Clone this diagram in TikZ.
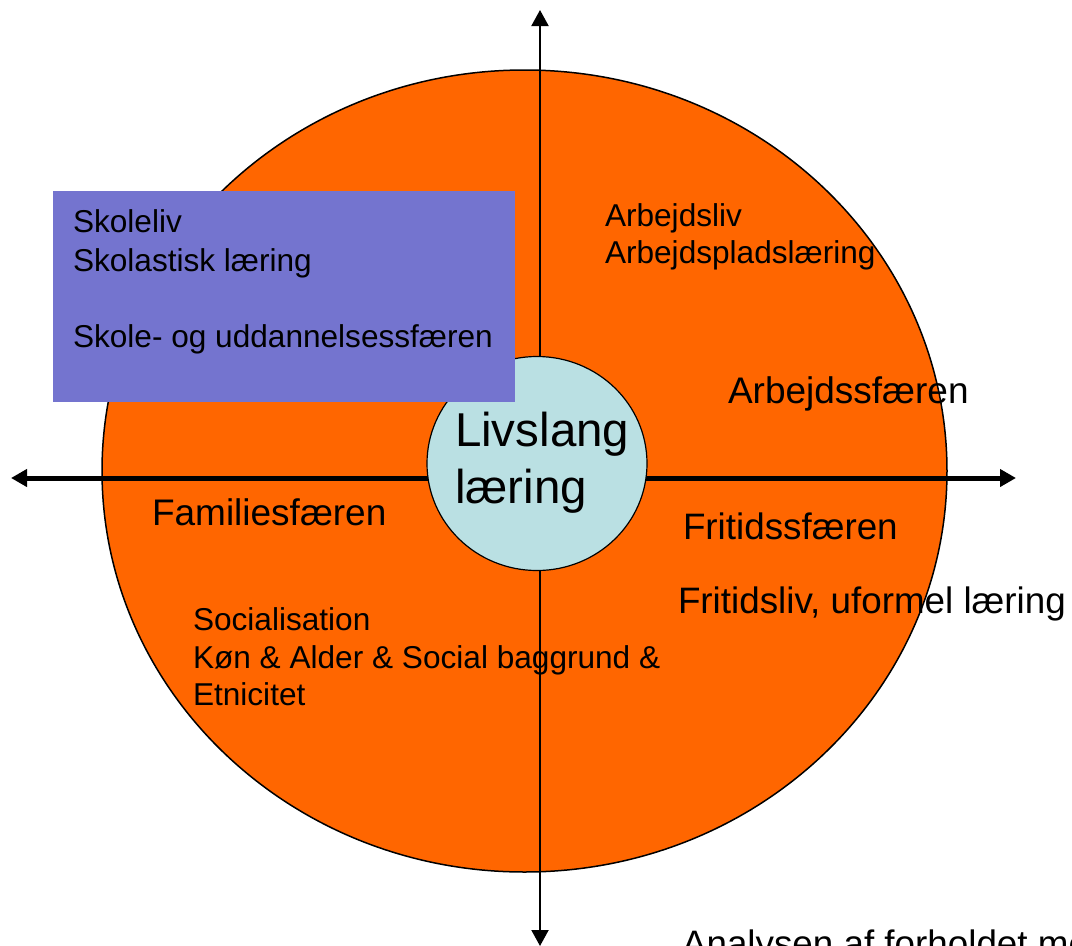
\documentclass[tikz,border=0pt]{standalone}
\usepackage{fontspec}
\setmainfont{Liberation Sans}
\usetikzlibrary{arrows.meta,shapes.geometric}
\definecolor{orng}{HTML}{FF6600}
\definecolor{lav}{HTML}{7474CF}
\definecolor{ltb}{HTML}{BAE0E3}
\begin{document}
\begin{tikzpicture}[x=1pt,y=-1pt,
  txt/.style={anchor=base west,inner sep=0pt,outer sep=0pt},
  small/.style={font=\fontsize{31.6}{38}\selectfont},
  mid/.style={font=\fontsize{36.8}{40}\selectfont},
  big/.style={font=\fontsize{47.5}{57}\selectfont},
  >={Triangle[length=16pt,width=17pt]}]
\useasboundingbox (0,0) rectangle (1072,946);
% big ellipse
\node[draw,ellipse,fill=orng,line width=1.5pt,inner sep=0pt,
      minimum width=845pt,minimum height=802pt] (sphere) at (524.5,471) {};
% texts in orange
\node[txt,small] (a1) at (605,226) {Arbejdsliv};
\node[txt,small] (a2) at (605,263) {Arbejdspladslæring};
\node[txt,font=\fontsize{37}{40}\selectfont] (a3) at (728,403) {Arbejdssfæren};
\node[txt,font=\fontsize{37}{40}\selectfont] (f1) at (152,525) {Familiesfæren};
\node[txt,mid] (r1) at (683,539) {Fritidssfæren};
\node[txt,mid] (r2) at (678,613) {Fritidsliv, uformel læring};
\node[txt,small] (s1) at (193,630) {Socialisation};
\node[txt,small] (s2) at (193,668) {Køn \& Alder \& Social baggrund \&};
\node[txt,small] (s3) at (193,705) {Etnicitet};
\node[txt,mid] (an) at (682,956) {Analysen af forholdet meller};
% axes
\coordinate (top) at (540,10);
\coordinate (bot) at (540,946);
\coordinate (lft) at (11,478);
\coordinate (rgt) at (1016,478);
\draw[line width=2pt,<->] (top) -- (bot);
\draw[line width=5pt,<->] (lft) -- (rgt);
% core
\node[draw,ellipse,fill=ltb,line width=1.2pt,inner sep=0pt,
      minimum width=220pt,minimum height=214pt] (core) at (537,463.5) {};
\node[txt,big] (l1) at (455,446) {Livslang};
\node[txt,big] (l2) at (455,503) {læring};
% school box
\node[fill=lav,anchor=north west,inner sep=0pt,
      minimum width=462pt,minimum height=211pt] (school) at (53,191) {};
\node[txt,small] (k1) at (73,232) {Skoleliv};
\node[txt,small] (k2) at (73,271) {Skolastisk læring};
\node[txt,small] (k3) at (73,347) {Skole- og uddannelsessfæren};
\end{tikzpicture}
\end{document}
